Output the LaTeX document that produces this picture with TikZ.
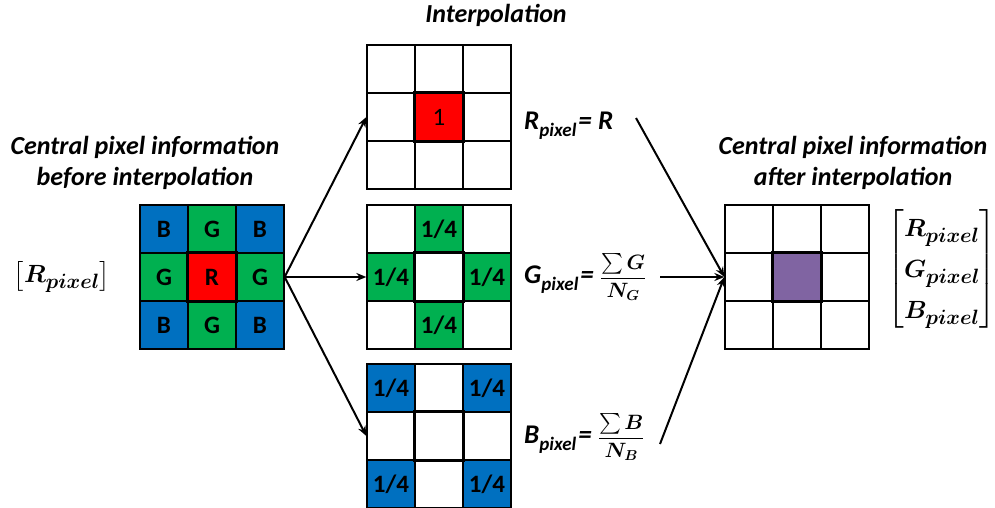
\documentclass[tikz,border=0pt]{standalone}
\usepackage{amsmath,bm}
\usepackage{fontspec}
\setmainfont{Carlito}
\usetikzlibrary{arrows.meta}
\definecolor{cblue}{RGB}{0,112,192}
\definecolor{cgreen}{RGB}{0,176,80}
\definecolor{cred}{RGB}{255,0,0}
\definecolor{cpurp}{RGB}{128,100,162}
\newcommand\qq{1/4}
\newcommand\pixgrid[4]{%
  \foreach [count=\i from 0] \f/\t in {#4} {
    \pgfmathtruncatemacro\r{div(\i,3)+1}
    \pgfmathtruncatemacro\c{mod(\i,3)+1}
    \node[cell, fill=\f] (#1\r\c) at ({#2+24+48*(\c-1)},{#3+24+48*(\r-1)}) {\t};
  }
  \draw[line width=3.5pt] (#122.north west) rectangle (#122.south east);
}
\begin{document}
\begin{tikzpicture}[x=1pt,y=-1pt,
  cell/.style={draw, line width=1.3pt, minimum size=48pt, inner sep=0pt,
    font=\fontsize{25}{25}\selectfont\bfseries},
  title/.style={font=\fontsize{26}{31}\selectfont\bfseries\itshape, align=center, inner sep=0pt},
  eq/.style={font=\fontsize{27}{27}\selectfont\bfseries\itshape, inner sep=0pt},
  arr/.style={line width=2pt, -{Stealth[length=10pt,width=8pt]}}]
\useasboundingbox (0,0) rectangle (995,508);

\pixgrid{L}{140}{205}{cblue/B,cgreen/G,cblue/B,cgreen/G,cred/R,cgreen/G,cblue/B,cgreen/G,cblue/B}
\pixgrid{T}{367}{45}{white/,white/,white/,white/,cred/\mdseries 1,white/,white/,white/,white/}
\pixgrid{M}{367}{205}{white/,cgreen/\qq,white/,cgreen/\qq,white/,cgreen/\qq,white/,cgreen/\qq,white/}
\pixgrid{K}{367}{364}{cblue/\qq,white/,cblue/\qq,white/,white/,white/,cblue/\qq,white/,cblue/\qq}
\pixgrid{O}{725}{205}{white/,white/,white/,white/,cpurp/,white/,white/,white/,white/}

\node[title, anchor=base] (tint) at (496,23) {Interpolation};
\node[title] (tbefore) at (145,163) {Central pixel information\\before interpolation};
\node[title] (tafter) at (853,163) {Central pixel information\\after interpolation};

\node[inner sep=0pt] (rin) at (62,277) {\fontsize{29}{34}\selectfont$\bigl[\bm{R_{pixel}}\bigr]$};
\node[inner sep=0pt] (rout) at (942,269) {\fontsize{29}{41}\selectfont$\left[\begin{array}{@{}l@{}}\bm{R_{pixel}}\\ \bm{G_{pixel}}\\ \bm{B_{pixel}}\end{array}\right]$};

\node[eq, anchor=base west] (eqR) at (524,129) {R\raisebox{-7pt}{\fontsize{19}{19}\selectfont pixel}\hspace{2pt}= R};
\node[eq, anchor=west] (eqG) at (524,277) {G\raisebox{-7pt}{\fontsize{19}{19}\selectfont pixel}\hspace{2pt}= {\fontsize{21}{24}\selectfont$\dfrac{\sum\bm{G}}{\bm{N_G}}$}};
\node[eq, anchor=west] (eqB) at (524,437) {B\raisebox{-7pt}{\fontsize{19}{19}\selectfont pixel}\hspace{2pt}= {\fontsize{21}{24}\selectfont$\dfrac{\sum\bm{B}}{\bm{N_B}}$}};

\coordinate (rR) at (636,118);
\coordinate (rG) at (660,277);
\coordinate (rB) at (660,444);

\draw[arr] (L23.east) -- (T21.west);
\draw[arr] (L23.east) -- (M21.west);
\draw[arr] (L23.east) -- (K21.west);
\draw[arr] (rR) -- (O21.west);
\draw[arr] (rG) -- (O21.west);
\draw[arr] (rB) -- (O21.west);
\end{tikzpicture}
\end{document}
